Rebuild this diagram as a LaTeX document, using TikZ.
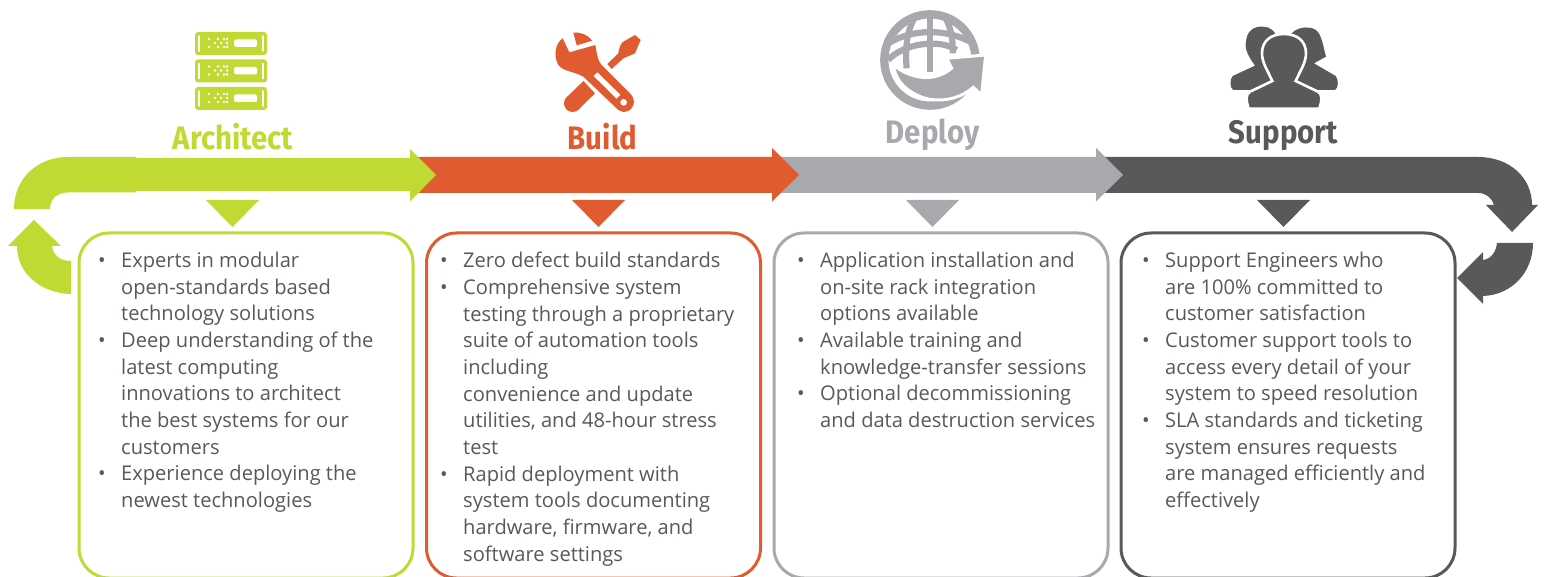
\documentclass[tikz,border=0pt]{standalone}
\usepackage{fontspec}
\setmainfont[FakeStretch=0.99]{Open Sans}
\newfontfamily\headfont[FakeStretch=0.905]{Fira Sans}
\usetikzlibrary{calc}
\definecolor{cgreen}{HTML}{C1D933}
\definecolor{corange}{HTML}{E15B30}
\definecolor{cgrey}{HTML}{A7A9AC}
\definecolor{cdark}{HTML}{58595B}
\newcommand{\li}{\makebox[20pt][l]{\hspace*{-3pt}•}}
\newcommand{\ct}{\hspace*{20pt}}
\tikzset{
  x=1pt,y=-1pt,
  panel/.style={draw=#1,line width=3pt,rounded corners=30pt,fill=white,minimum width=334pt,minimum height=345pt,anchor=north west,inner sep=0pt},
  heading/.style={text=#1,font=\headfont\bfseries\fontsize{32.5}{36}\selectfont,anchor=base,inner sep=0pt},
  listing/.style={text=cdark,font=\fontsize{20.3}{26.67}\selectfont,anchor=north west,align=left,inner sep=0pt},
  pointer/.style={fill=#1,draw=none},
}
\begin{document}
\begin{tikzpicture}
\useasboundingbox (0,0) rectangle (1549,577);
% band arrows, right to left so each head lies on the next band
\fill[cdark] (1105,157) -- (1478,157) .. controls (1510,157) and (1532,178) .. (1532,205) -- (1538,205) -- (1512,232) -- (1486,205) -- (1494,205) .. controls (1492,198) and (1486,193) .. (1478,193) -- (1105,193) -- cycle;
\fill[cgrey] (780,157) -- (1096,157) -- (1096,148) -- (1123,175) -- (1096,201.5) -- (1096,193) -- (780,193) -- cycle;
\fill[corange] (410,157) -- (772,157) -- (772,148) -- (799,175) -- (772,201.5) -- (772,193) -- (410,193) -- cycle;
\fill[cgreen] (14,209) .. controls (14,178) and (38,157) .. (68,157) -- (136,157) -- (136,158) -- (410,158) -- (410,149) -- (436,175) -- (410,201.5) -- (410,191) -- (136,191) -- (136,192.5) -- (68,192.5) .. controls (57,192.5) and (50,199) .. (50,209) -- cycle;
% return arrows
\fill[cdark] (1533,243) -- (1497,243) .. controls (1496,252) and (1491,259) .. (1483,260) -- (1483,252) -- (1457,278) -- (1483,304) -- (1483,296) .. controls (1512,295) and (1533,272) .. (1533,243) -- cycle;
\fill[cgreen] (71,294) .. controls (40,293) and (17,273) .. (17,246) -- (8,246) -- (34,220) -- (61,246) -- (52,246) .. controls (53,255) and (60,261) .. (71,261) -- cycle;
% drop triangles
\fill[pointer=cgreen] (206,200) -- (259,200) -- (232.5,227) -- cycle;
\fill[pointer=corange] (572,200) -- (625,200) -- (598.5,227) -- cycle;
\fill[pointer=cgrey] (906,200) -- (959,200) -- (932.5,227) -- cycle;
\fill[pointer=cdark] (1257,200) -- (1310,200) -- (1283.5,227) -- cycle;
% panels
\node[panel=cgreen] (boxA) at (77.5,231.5) {};
\node[panel=corange] (boxB) at (425,231.5) {};
\node[panel=cgrey] (boxC) at (772.5,231.5) {};
\node[panel=cdark] (boxD) at (1119.5,231.5) {};
% headings
\node[heading=cgreen] (hA) at (233,149.5) {Architect};
\node[heading=corange] (hB) at (602.5,149.5) {Build};
\node[heading=cgrey] (hC) at (932.5,143.5) {Deploy};
\node[heading=cdark] (hD) at (1283.5,143.5) {Support};
% lists
\node[listing] (tA) at (101,252) {\li Experts in modular\\\ct open-standards based\\\ct technology solutions\\\li Deep understanding of the\\\ct latest computing\\\ct innovations to architect\\\ct the best systems for our\\\ct customers\\\li Experience deploying the\\\ct newest technologies};
\node[listing] (tB) at (443,252) {\li Zero defect build standards\\\li Comprehensive system\\\ct testing through a proprietary\\\ct suite of automation tools\\\ct including\\\ct convenience and update\\\ct utilities, and 48-hour stress\\\ct test\\\li Rapid deployment with\\\ct system tools documenting\\\ct hardware, firmware, and\\\ct software settings};
\node[listing] (tC) at (800,252) {\li Application installation and\\\ct on-site rack integration\\\ct options available\\\li Available training and\\\ct knowledge-transfer sessions\\\li Optional decommissioning\\\ct and data destruction services};
\node[listing] (tD) at (1145,252) {\li Support Engineers who\\\ct are 100\% committed to\\\ct customer satisfaction\\\li Customer support tools to\\\ct access every detail of your\\\ct system to speed resolution\\\li SLA standards and ticketing\\\ct system ensures requests\\\ct are managed efficiently and\\\ct effectively};
% server icon
\foreach \yy in {32,59.5,87}{
  \fill[cgreen,rounded corners=3pt] (195,\yy) rectangle (267,\yy+23);
  \fill[white,rounded corners=1.5pt] (234,\yy+7.5) rectangle (257,\yy+15);
  \draw[white,line width=1.4pt,line cap=round] (199,\yy+4) -- (199,\yy+19) (263,\yy+4) -- (263,\yy+19);
  \foreach \dx/\dy in {0/7,0/15,6/11,9/7,9/15,12/11,15/7,15/15,18/11,18/7,18/15}{
    \fill[white] (209+\dx,\yy+\dy) circle (1.4pt);
  }
}
% tools icon (traced at 3x, origin 520,0)
\begin{scope}[shift={(520,0)},x=0.3333pt,y=-0.3333pt]
  % screwdriver
  \fill[corange] (262,192) -- (295,160) .. controls (298,140) and (303,130) .. (310,125) -- (345,105) -- (362,120) -- (345,160) -- (310,175) -- (275,207) -- cycle;
  \fill[corange] (190,243) -- (225,280) -- (176,328) -- (140,292) -- cycle;
  \fill[corange] (158,310) circle (26);
  % wrench
  \fill[corange] (128,115) .. controls (105,130) and (100,170) .. (115,195) .. controls (130,215) and (165,215) .. (190,230) -- (295,330) .. controls (310,342) and (340,335) .. (342,305) .. controls (342,295) and (338,290) .. (330,280) -- (245,195) .. controls (235,185) and (232,170) .. (226,135) -- (148,157) -- cycle;
  \fill[corange] (160,98) .. controls (180,95) and (205,105) .. (217,122) -- (170,136) -- cycle;
  \fill[white] (221,228) -- (232,217) -- (301,284) -- (290,296) -- cycle;
  \fill[white] (311,307) circle (10);
\end{scope}
% globe icon (traced at 3x, origin 520,0)
\begin{scope}[shift={(520,0)},x=0.3333pt,y=-0.3333pt]
  \draw[cgrey,line width=8.3pt] (1230,180) circle (137);
  \begin{scope}
    \clip (1230,180) circle (140);
    \fill[cgrey] (1220,30) rectangle (1240,215);
    \draw[cgrey,line width=6.2pt] (1105,130) .. controls (1180,85) and (1280,85) .. (1360,130);
    \draw[cgrey,line width=6.2pt] (1195,35) .. controls (1160,85) and (1155,140) .. (1160,205);
    \draw[cgrey,line width=6.2pt] (1265,35) .. controls (1290,70) and (1300,110) .. (1298,160);
    \draw[cgrey,line width=6.2pt] (1105,180) .. controls (1150,130) and (1260,115) .. (1310,150);
  \end{scope}
  \fill[white] (1385,140) -- (1420,140) -- (1420,300) -- (1290,330) .. controls (1340,315) and (1375,300) .. (1385,140) -- cycle;
  \fill[cgrey,draw=white,line width=3pt] (1120,195) .. controls (1170,235) and (1240,250) .. (1295,205) -- (1280,175) -- (1397,165) -- (1385,285) -- (1360,262) .. controls (1310,305) and (1240,310) .. (1190,285) .. controls (1150,265) and (1125,235) .. (1120,195) -- cycle;
\end{scope}
% people icon (traced at 3x, origin 1090,0)
\begin{scope}[shift={(1090,0)},x=0.3333pt,y=-0.3333pt]
  \fill[cdark] (430,270) .. controls (420,265) and (418,240) .. (428,228) -- (495,197) .. controls (480,175) and (462,150) .. (468,125) .. controls (470,95) and (490,78) .. (518,80) .. controls (540,80) and (555,92) .. (565,120) -- (565,270) -- cycle;
  \fill[cdark] (735,270) .. controls (745,265) and (747,240) .. (737,228) -- (672,190) -- (708,170) .. controls (700,140) and (695,105) .. (680,92) .. controls (665,78) and (625,78) .. (605,100) -- (595,120) -- (595,270) -- cycle;
  \fill[cdark,draw=white,line width=2.6pt] (476,326) .. controls (468,300) and (466,285) .. (480,275) -- (547,243) -- (526,200) .. controls (520,185) and (516,175) .. (516,160) .. controls (516,125) and (540,102) .. (582,102) .. controls (624,102) and (648,125) .. (648,160) .. controls (648,175) and (644,185) .. (638,200) -- (617,243) -- (684,275) .. controls (698,285) and (696,300) .. (688,326) -- cycle;
\end{scope}
\end{tikzpicture}
\end{document}
